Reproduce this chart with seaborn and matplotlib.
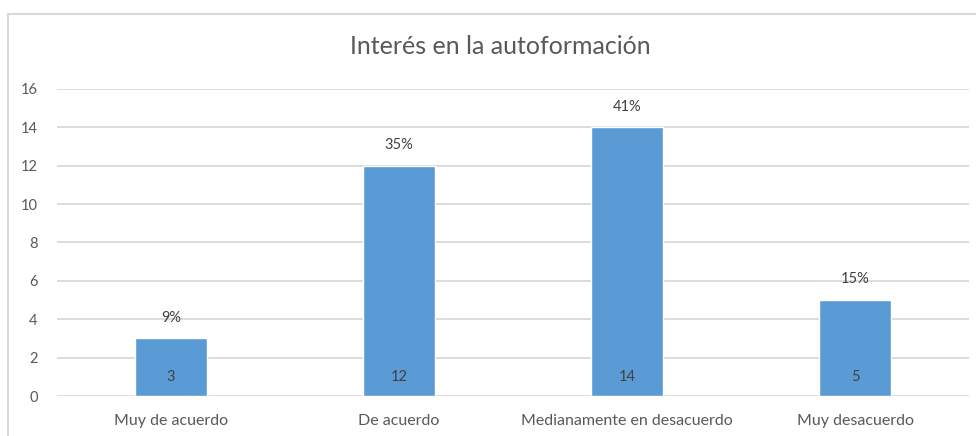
import matplotlib
matplotlib.use('Agg')
import matplotlib.pyplot as plt
import seaborn as sns
import pandas as pd
from matplotlib.lines import Line2D

categories = ['Muy de acuerdo', 'De acuerdo', 'Medianamente en desacuerdo', 'Muy desacuerdo']
counts = [3, 12, 14, 5]
percents = ['9%', '35%', '41%', '15%']
yticks = [0, 2, 4, 6, 8, 10, 12, 14, 16]

df = pd.DataFrame({'Respuesta': categories, 'Cantidad': counts})

sns.set_style('white')
plt.rcParams['font.family'] = ['Lato', 'DejaVu Sans']

fig = plt.figure(figsize=(9.76, 4.36), dpi=100)
ax = fig.add_axes([57 / 976, 40 / 436, 912 / 976, 307 / 436])

sns.barplot(data=df, x='Respuesta', y='Cantidad', color='#5b9bd5', saturation=1,
            width=0.316, ax=ax, zorder=3)

ax.set_ylim(0, 16)
ax.set_yticks(yticks)
ax.yaxis.grid(True, color='#d9d9d9', linewidth=1.3, zorder=0)
ax.set_axisbelow(True)
for s in ax.spines.values():
    s.set_visible(False)
ax.tick_params(axis='both', length=0, labelcolor='#595959')
ax.tick_params(axis='y', pad=14, labelsize=10.5)
ax.tick_params(axis='x', pad=13, labelsize=11.5)
ax.set_xlabel('')
ax.set_ylabel('')

# count labels inside bars (near base) and percentage above bars
for i, (c, p) in enumerate(zip(counts, percents)):
    ax.annotate(str(c), (i, 0), xytext=(0, 14), textcoords='offset points',
                ha='center', va='center', fontsize=10.5, color='#404040')
    ax.annotate(p, (i, c), xytext=(0, 15), textcoords='offset points',
                ha='center', va='center', fontsize=10.5, color='#404040')

fig.text(500 / 976, 1 - 47 / 436, 'Interés en la autoformación', ha='center', va='center',
         fontsize=18, color='#595959')

# chart border (left and top visible)
fig.add_artist(Line2D([8 / 976, 8 / 976], [0, 1 - 14 / 436], transform=fig.transFigure,
                      color='#d9d9d9', linewidth=1.5))
fig.add_artist(Line2D([8 / 976, 1], [1 - 14 / 436, 1 - 14 / 436], transform=fig.transFigure,
                      color='#d9d9d9', linewidth=1.5))

fig.savefig('out.png', dpi=100, facecolor='white')
